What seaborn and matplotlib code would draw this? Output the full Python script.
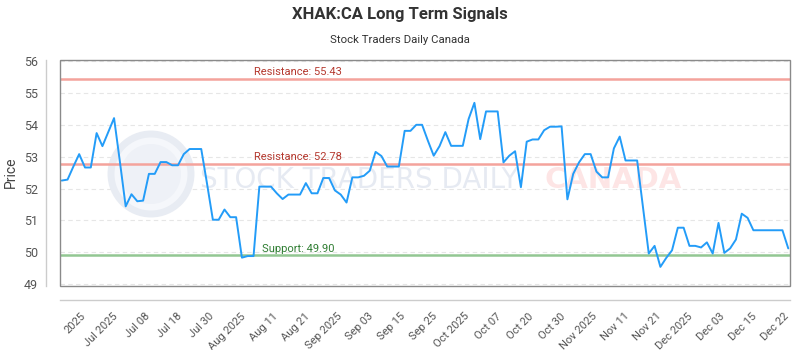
import numpy as np
import pandas as pd
import matplotlib
matplotlib.use("Agg")
import matplotlib.pyplot as plt
import seaborn as sns
from matplotlib.patches import Rectangle, Circle

# ---------------- data ----------------
prices = [52.25, 52.28, 52.69, 53.08, 52.66, 52.66, 53.74, 53.33, 53.77, 54.21,
          52.85, 51.44, 51.82, 51.60, 51.62, 52.46, 52.46, 52.83, 52.83, 52.73,
          52.73, 53.08, 53.24, 53.24, 53.24, 52.15, 51.02, 51.02, 51.34, 51.10,
          51.10, 49.83, 49.88, 49.88, 52.06, 52.06, 52.06, 51.85, 51.67, 51.81,
          51.81, 51.81, 52.17, 51.85, 51.85, 52.33, 52.33, 51.94, 51.81, 51.56,
          52.35, 52.35, 52.40, 52.56, 53.15, 53.02, 52.69, 52.69, 52.69, 53.81,
          53.81, 54.00, 54.00, 53.50, 53.03, 53.33, 53.77, 53.34, 53.34, 53.34,
          54.18, 54.69, 53.55, 54.42, 54.42, 54.42, 52.82, 53.03, 53.17, 52.04,
          53.47, 53.54, 53.54, 53.83, 53.94, 53.94, 53.95, 51.66, 52.46, 52.82,
          53.08, 53.08, 52.53, 52.35, 52.35, 53.26, 53.63, 52.88, 52.88, 52.88,
          51.42, 49.96, 50.20, 49.54, 49.82, 50.06, 50.77, 50.77, 50.20, 50.20,
          50.15, 50.31, 49.96, 50.92, 49.98, 50.12, 50.40, 51.21, 51.08, 50.69,
          50.69, 50.69, 50.69, 50.69, 50.69, 50.12]

tick_labels = ["2025", "Jul 2025", "Jul 08", "Jul 18", "Jul 30", "Aug 2025",
               "Aug 11", "Aug 21", "Sep 2025", "Sep 03", "Sep 15", "Sep 25",
               "Oct 2025", "Oct 07", "Oct 20", "Oct 30", "Nov 2025", "Nov 11",
               "Nov 21", "Dec 2025", "Dec 03", "Dec 15", "Dec 22"]

resistance_levels = [55.43, 52.78]
support_levels = [49.90]
y_ticks = [49, 50, 51, 52, 53, 54, 55, 56]

title = "XHAK:CA Long Term Signals"
subtitle = "Stock Traders Daily Canada"

df = pd.DataFrame({"idx": np.arange(len(prices)), "price": prices})

# ---------------- figure ----------------
sns.set_theme(style="white")
plt.rcParams["font.family"] = ["Roboto", "DejaVu Sans"]

fig = plt.figure(figsize=(8, 3.5), dpi=100)
ax = fig.add_axes([60 / 800, 1 - 286 / 350, 730 / 800, (286 - 59.5) / 350])

n = len(prices)
ax.set_xlim(-0.3, n - 1 + 0.3)
ax.set_ylim(48.94, 56.05)

# gridlines
for yv in y_ticks:
    ax.axhline(yv, color="#e6e6e6", lw=0.8, ls=(0, (4, 3)), zorder=0)

# watermark (logo circle + text)
ax.add_patch(Circle((1.51, 1.76), 0.40, transform=fig.dpi_scale_trans,
                    facecolor="#f5f7fb", edgecolor="#e8ecf3", lw=5,
                    zorder=0.5))
ax.add_patch(Circle((1.51, 1.76), 0.30, transform=fig.dpi_scale_trans,
                    facecolor="#eef1f7", edgecolor="none", zorder=0.55))
ax.text(0.192, 0.47, "STOCK TRADERS DAILY", transform=ax.transAxes,
        fontsize=20, color="#e6eaf2", ha="left", va="center",
        family=["DejaVu Sans"], zorder=0.6)
ax.text(0.664, 0.47, "CANADA", transform=ax.transAxes,
        fontsize=21, color="#fde5e5", ha="left", va="center", fontweight="bold",
        family=["DejaVu Sans"], zorder=0.6)

# levels
for lv in resistance_levels:
    ax.axhline(lv, color="#f4a39c", lw=1.8, zorder=1)
    ax.text(0.266, lv + 0.06, f"Resistance: {lv:.2f}", transform=ax.get_yaxis_transform(),
            color="#b5392f", fontsize=8, ha="left", va="bottom")
for lv in support_levels:
    ax.axhline(lv, color="#92c792", lw=1.8, zorder=1)
    ax.text(0.277, lv + 0.06, f"Support: {lv:.2f}", transform=ax.get_yaxis_transform(),
            color="#2f7d32", fontsize=8, ha="left", va="bottom")

sns.lineplot(data=df, x="idx", y="price", ax=ax, color="#239cf8", lw=1.4, zorder=3)

# axes styling
for s in ["top", "right"]:
    ax.spines[s].set_visible(False)
for s in ["left", "bottom"]:
    ax.spines[s].set_position(("outward", 10))
    ax.spines[s].set_color("#cccccc")
    ax.spines[s].set_linewidth(1)
ax.add_patch(Rectangle((0, 0), 1, 1, transform=ax.transAxes, fill=False,
                       edgecolor="#8a8a8a", lw=1, zorder=5, clip_on=False))

ax.set_yticks(y_ticks)
ax.set_yticklabels([str(v) for v in y_ticks])
tick_pos = np.linspace(3.3, 124.2, len(tick_labels))
ax.set_xticks(tick_pos)
ax.set_xticklabels(tick_labels, rotation=45, ha="right", va="top",
                   rotation_mode="anchor")
ax.tick_params(axis="both", length=0, colors="#555555")
ax.tick_params(axis="y", labelsize=9, pad=6)
ax.tick_params(axis="x", labelsize=8, pad=8)

ax.set_xlabel("")
ax.set_ylabel("Price", fontsize=10, color="#444444", labelpad=4)

fig.text(0.5, 1 - 15 / 350, title, ha="center", va="center",
         fontsize=12, fontweight="bold", color="#333333")
fig.text(0.5, 1 - 40 / 350, subtitle, ha="center", va="center",
         fontsize=8.2, color="#333333")

fig.savefig("out.png", dpi=100)
